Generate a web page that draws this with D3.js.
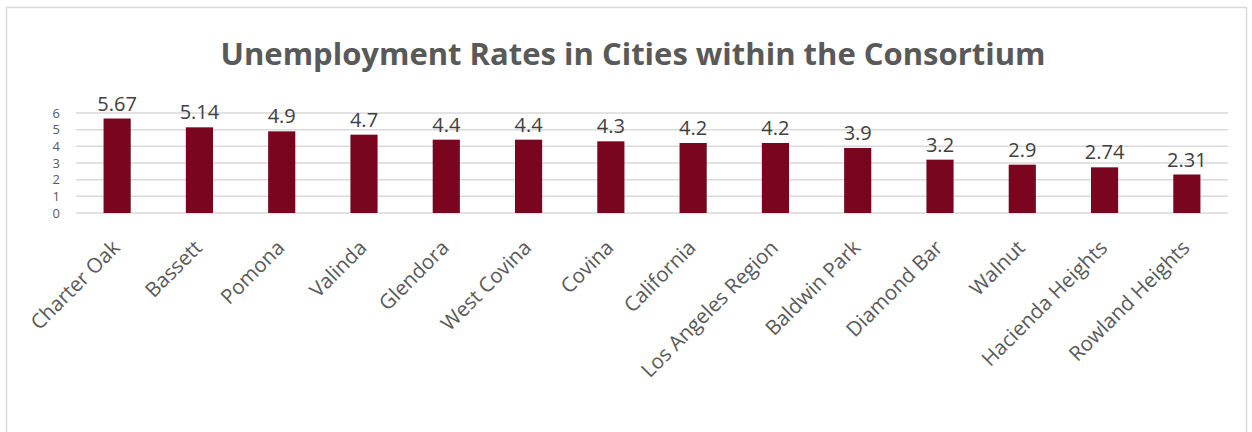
<!DOCTYPE html>
<html>
<head>
<meta charset="utf-8">
<script src="https://cdn.jsdelivr.net/npm/d3@7"></script>
<style>
  body { margin: 0; background: #fff; }
  text { font-family: "Open Sans", "Noto Sans", sans-serif; }
</style>
</head>
<body>
<div id="chart"></div>
<script>
const cities = ["Charter Oak", "Bassett", "Pomona", "Valinda", "Glendora", "West Covina", "Covina",
  "California", "Los Angeles Region", "Baldwin Park", "Diamond Bar", "Walnut", "Hacienda Heights", "Rowland Heights"];
const rates = [5.67, 5.14, 4.9, 4.7, 4.4, 4.4, 4.3, 4.2, 4.2, 3.9, 3.2, 2.9, 2.74, 2.31];
const yTicks = [0, 1, 2, 3, 4, 5, 6];
const title = "Unemployment Rates in Cities within the Consortium";

const width = 1252, height = 432;
const margin = {top: 113, left: 76, right: 24, bottom: 219};

const svg = d3.select('#chart')
  .append('svg')
  .attr('width', width)
  .attr('height', height);

// chart border
svg.append('rect')
  .attr('x', 6.5).attr('y', 7.5)
  .attr('width', 1240).attr('height', 440)
  .attr('fill', '#fff')
  .attr('stroke', '#d9d9d9')
  .attr('stroke-width', 1.5);

svg.append('text')
  .attr('x', 633).attr('y', 65)
  .attr('text-anchor', 'middle')
  .attr('font-size', 31)
  .attr('font-weight', 'bold')
  .attr('fill', '#595959')
  .text(title);

const x = d3.scaleBand()
  .domain(cities)
  .range([margin.left, width - margin.right])
  .paddingInner(0.67)
  .paddingOuter(0.335);

const y = d3.scaleLinear()
  .domain([0, 6])
  .range([height - margin.bottom, margin.top]);

// gridlines
svg.append('g')
  .selectAll('line')
  .data(yTicks)
  .join('line')
  .attr('x1', margin.left)
  .attr('x2', width - margin.right)
  .attr('y1', d => y(d))
  .attr('y2', d => y(d))
  .attr('stroke', '#d9d9d9')
  .attr('stroke-width', 1.5);

// y axis labels
const yAxis = svg.append('g')
  .attr('transform', `translate(${margin.left - 16},0)`)
  .call(d3.axisLeft(y).tickValues(yTicks).tickFormat(d3.format('d')).tickSize(0).tickPadding(0));
yAxis.select('.domain').remove();
yAxis.selectAll('text')
  .attr('font-size', 13)
  .attr('fill', '#595959')
  .style('font-family', '"Open Sans", sans-serif');

// bars
svg.append('g')
  .selectAll('rect')
  .data(cities)
  .join('rect')
  .attr('x', d => x(d))
  .attr('width', x.bandwidth())
  .attr('y', (d, i) => y(rates[i]))
  .attr('height', (d, i) => y(0) - y(rates[i]))
  .attr('fill', '#79051f');

// data labels
svg.append('g')
  .selectAll('text')
  .data(cities)
  .join('text')
  .attr('x', d => x(d) + x.bandwidth() / 2)
  .attr('y', (d, i) => y(rates[i]) - 8)
  .attr('text-anchor', 'middle')
  .attr('font-size', 20)
  .attr('fill', '#404040')
  .text((d, i) => rates[i]);

// category labels
svg.append('g')
  .selectAll('text')
  .data(cities)
  .join('text')
  .attr('text-anchor', 'end')
  .attr('font-size', 20.5)
  .attr('fill', '#595959')
  .attr('transform', d => `translate(${x(d) + x.bandwidth() / 2 + 4},${y(0) + 36}) rotate(-45)`)
  .text(d => d);
</script>
</body>
</html>
